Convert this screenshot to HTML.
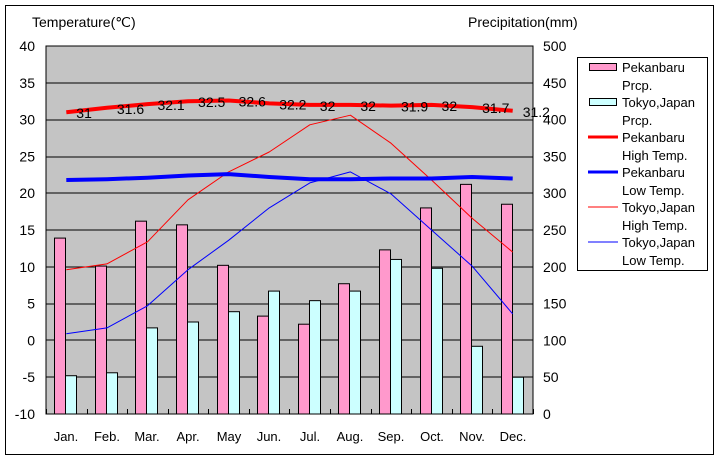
<!DOCTYPE html>
<html><head><style>body{margin:0;background:#fff}svg{display:block}text{font-family:"Liberation Sans",sans-serif}</style></head><body>
<svg width="720" height="460" xmlns="http://www.w3.org/2000/svg">
<rect x="5.5" y="5.5" width="708" height="449" fill="#fff" stroke="#000"/>
<rect x="46" y="46" width="487" height="368" fill="#c4c4c4"/>
<g stroke="#000" stroke-width="1">
<line x1="46" x2="533" y1="120" y2="120"/><line x1="46" x2="533" y1="193" y2="193"/><line x1="46" x2="533" y1="267" y2="267"/><line x1="46" x2="533" y1="340" y2="340"/>
<line x1="46" x2="533" y1="83" y2="83"/><line x1="46" x2="533" y1="157" y2="157"/><line x1="46" x2="533" y1="230" y2="230"/><line x1="46" x2="533" y1="304" y2="304"/><line x1="46" x2="533" y1="377" y2="377"/>
</g>
<g id="bars" stroke="#000" stroke-width="1"></g>
<rect x="46" y="46" width="487" height="368" fill="none" stroke="#000"/>
<g id="ticks" stroke="#000"></g>
<g id="lines" fill="none" stroke-linejoin="round"></g>
<g id="labels" font-size="14" fill="#000"></g>
<g font-size="14" text-anchor="end" id="ly"></g>
<g font-size="14" id="ry"></g>
<g font-size="13" text-anchor="middle" id="mx"></g>
<text x="32" y="27" font-size="14">Temperature(℃)</text>
<text x="468" y="27" font-size="14">Precipitation(mm)</text>
<rect x="577.5" y="57.5" width="130" height="213" fill="#fff" stroke="#000"/>
<g font-size="13">
<rect x="589.5" y="63.5" width="27" height="7" fill="#ff99cc" stroke="#000"/>
<text x="622" y="72">Pekanbaru</text><text x="622" y="90">Prcp.</text>
<rect x="589.5" y="98.5" width="27" height="7" fill="#ccffff" stroke="#000"/>
<text x="622" y="107">Tokyo,Japan</text><text x="622" y="125">Prcp.</text>
<line x1="588" x2="618" y1="137" y2="137" stroke="red" stroke-width="3"/>
<text x="622" y="142">Pekanbaru</text><text x="622" y="160">High Temp.</text>
<line x1="588" x2="618" y1="172" y2="172" stroke="blue" stroke-width="3"/>
<text x="622" y="177">Pekanbaru</text><text x="622" y="195">Low Temp.</text>
<line x1="588" x2="618" y1="207" y2="207" stroke="red" stroke-width="1"/>
<text x="622" y="212">Tokyo,Japan</text><text x="622" y="230">High Temp.</text>
<line x1="588" x2="618" y1="242" y2="242" stroke="blue" stroke-width="1"/>
<text x="622" y="247">Tokyo,Japan</text><text x="622" y="265">Low Temp.</text>
</g>
<script>
var ns="http://www.w3.org/2000/svg";
function el(p,t,a,txt){var e=document.createElementNS(ns,t);for(var k in a)e.setAttribute(k,a[k]);if(txt!=null)e.textContent=txt;document.getElementById(p).appendChild(e);}
var cx=function(i){return 46+20.3+i*40.583;};
var ty=function(t){return 414-(t+10)*7.36;};
var py=function(p){return 414-p*0.736;};
var pp=[239,201,262,257,202,133,122,177,223,280,312,285];
var tp=[52,56,117,125,139,167,154,167,210,198,92,50];
var ph=[31,31.6,32.1,32.5,32.6,32.2,32,32,31.9,32,31.7,31.2];
var pl=[21.8,21.9,22.1,22.4,22.6,22.2,21.9,21.9,22,22,22.2,22.0];
var th=[9.6,10.4,13.4,19.1,22.9,25.6,29.3,30.6,26.8,21.8,16.6,12.0];
var tl=[0.9,1.7,4.7,9.6,13.6,18.0,21.4,22.9,19.9,15.0,10.1,3.6];
var mo=["Jan.","Feb.","Mar.","Apr.","May","Jun.","Jul.","Aug.","Sep.","Oct.","Nov.","Dec."];
for(var i=0;i<12;i++){var c=Math.round(cx(i));
el("bars","rect",{x:c-11.5,y:py(pp[i]),width:11,height:414-py(pp[i]),fill:"#ff99cc"});
el("bars","rect",{x:c-0.5,y:py(tp[i]),width:11,height:414-py(tp[i]),fill:"#ccffff"});
el("mx","text",{x:c,y:441},mo[i]);}
for(var i=0;i<=12;i++){var x=Math.round(46+i*40.583)+0.5;el("ticks","line",{x1:x,x2:x,y1:409,y2:414});}
function line(d,w,col){var s="";for(var i=0;i<12;i++)s+=cx(i).toFixed(1)+","+ty(d[i]).toFixed(1)+" ";el("lines","polyline",{points:s,stroke:col,"stroke-width":w});}
line(th,1,"red");line(tl,1,"blue");line(ph,4,"red");line(pl,4,"blue");
for(var i=0;i<12;i++)el("labels","text",{x:cx(i)+10,y:ty(ph[i])+6},String(ph[i]));
for(var t=-10;t<=40;t+=5)el("ly","text",{x:35,y:ty(t)+5},String(t));
for(var p=0;p<=500;p+=50)el("ry","text",{x:543,y:py(p)+5},String(p));
</script>
</svg>
</body></html>
